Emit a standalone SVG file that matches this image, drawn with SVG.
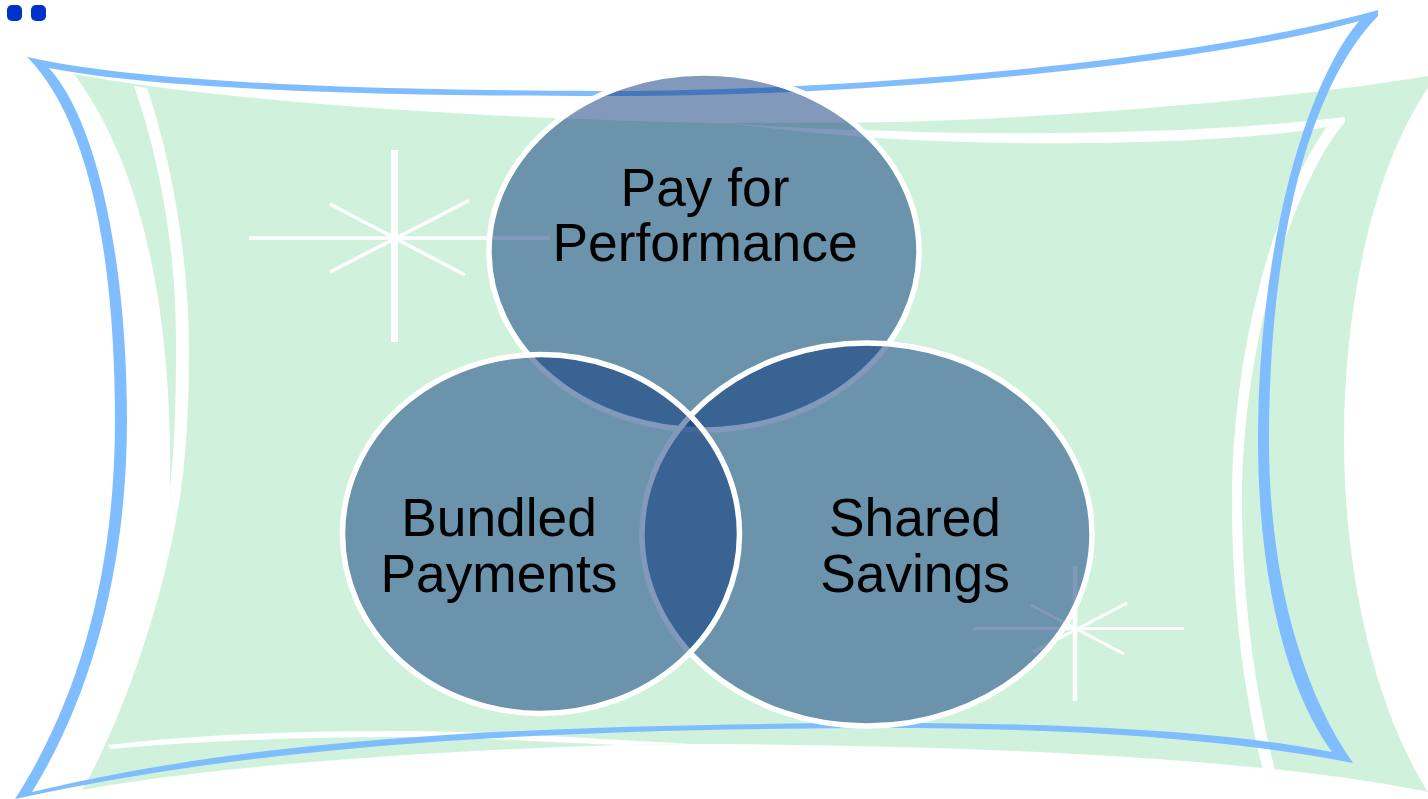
<svg xmlns="http://www.w3.org/2000/svg" width="1428" height="799" viewBox="0 0 1428 799">
<style>
.green{fill:#d0f2dd}
.wh{fill:#fff}
.blue{fill:#80bdff;fill-rule:evenodd}
.ray{stroke:#fff;fill:none}
.venn{fill:#06347a;fill-opacity:.5;stroke:none}
.edge{fill:none;stroke:#fff;stroke-width:5.5}
.dot{fill:#0033cc}
text{font-family:"Liberation Sans",Arial,sans-serif;font-size:53.3px;fill:#000;text-anchor:middle}
</style>
<rect width="1428" height="799" fill="#fff"/>
<rect class="dot" x="7" y="5" width="15" height="16" rx="5"/>
<rect class="dot" x="31" y="5" width="15" height="16" rx="5"/>
<g id="backdrop">
<path class="green" d="M74 74C200 98 450 118 720 123L860 122.500C1000 121 1250 105 1428 76L1428 88C1375 165 1344 300 1344 440C1344 560 1370 700 1428 792C1300 765 1050 745 690 744L620 745C400 752 200 768 82 790C120 725 160 610 176 520L170 490C172 370 160 190 74 74Z"/>
<path class="wh" d="M134 86L147 88C175 170 189 270 189 350C189 410 186 470 176 520L170 490C176 430 176 380 176 340C176 250 160 160 134 86Z"/>
<path class="wh" d="M108 745C200 734 300 731 400 731C480 731 600 739 690 744L620 745C560 743 480 737 400 737C300 737 200 741 110 749Z"/>
<path class="wh" d="M720 123C780 127 820 129 865 130C1000 136 1200 135 1345 117L1345 122C1295 180 1242 340 1242 500C1242 600 1255 690 1275 770L1263 770C1243 690 1232 600 1232 500C1232 340 1280 190 1327 127C1220 146 1000 147 865 137C820 134 770 128 720 123Z"/>
</g>
<g id="star-1" class="ray">
<path stroke-width="7" d="M394.500 150V342"/>
<path stroke-width="3.500" d="M249 238H550M469 200.500L330 272M465 275L330 204"/>
</g>
<g id="star-2" class="ray">
<path stroke-width="4.500" d="M1075 566V701"/>
<path stroke-width="3" d="M973 628.500H1184M1127 603L1033 652M1124 654L1031 605"/>
</g>
<path id="frame" class="blue" d="M27 57C120 78 300 90 600 91C850 92 1200 60 1378 10L1378 16C1310 85 1269 240 1269 440C1269 560 1295 680 1353 763C1220 737 1050 727 860 728C500 730 250 748 15 799C85 690 115 560 115 420C115 260 90 120 27 57ZM49 68C100 125 127 270 127 420C127 560 95 690 32 792C250 740 500 725 860 723C1050 722 1220 730 1332 752C1280 680 1258 560 1258 440C1258 250 1305 85 1359 21C1200 66 850 98 600 96C300 96 130 84 49 68Z"/>
<g id="pay-for-performance">
<ellipse class="venn" cx="704" cy="251.500" rx="215" ry="178.500"/>
<ellipse class="edge" cx="704" cy="251.500" rx="215" ry="178.500"/>
</g>
<g id="shared-savings">
<ellipse class="venn" cx="867" cy="534.500" rx="225" ry="191.500"/>
<ellipse class="edge" cx="867" cy="534.500" rx="225" ry="191.500"/>
</g>
<g id="bundled-payments">
<ellipse class="venn" cx="541" cy="534" rx="198.500" ry="179.500"/>
<ellipse class="edge" cx="541" cy="534" rx="198.500" ry="179.500"/>
</g>
<g id="labels">
<text x="705" y="206">Pay for</text>
<text x="705" y="261">Performance</text>
<text x="499" y="536">Bundled</text>
<text x="499" y="592">Payments</text>
<text x="915" y="536">Shared</text>
<text x="915" y="592">Savings</text>
</g>
</svg>
